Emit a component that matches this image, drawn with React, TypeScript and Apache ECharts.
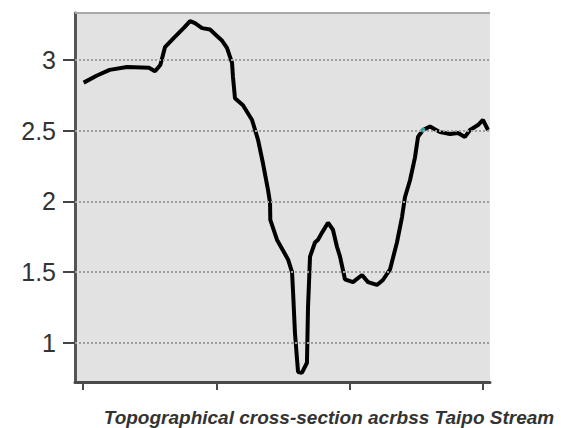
import React, { useEffect, useRef } from "react";
import * as echarts from "echarts";

// Distance along the section (axis units: ticks at 0, 100, 200, 300)
const distance: number[] = [
  0.5, 10.5, 20, 33, 49.5, 54, 58, 61.5, 68, 76, 80.3, 84, 89.3, 95.3, 100.5, 104,
  108, 111.8, 112.5, 114, 120, 126.8, 131.3, 135, 138.8, 140.3, 140.5, 145.5, 153.8,
  156.8, 157.5, 159, 161.3, 164.3, 168, 168.8, 170.3, 174, 176.3, 179.3, 183.8, 187.5,
  190.5, 192.8, 196.5, 202.5, 209.3, 213.8, 220.5, 225, 230.3, 235.5, 239.3, 241.5,
  245.3, 249, 251.3, 255, 260.3, 267.8, 275.3, 281.3, 286.5, 290.3, 296.3, 300, 303.8,
];

// Elevation values
const elevation: number[] = [
  2.84, 2.89, 2.93, 2.95, 2.945, 2.92, 2.965, 3.09, 3.155, 3.23, 3.275, 3.26, 3.225,
  3.215, 3.17, 3.14, 3.085, 2.98, 2.88, 2.73, 2.68, 2.576, 2.435, 2.27, 2.08, 1.99,
  1.87, 1.73, 1.59, 1.5, 1.375, 1.07, 0.795, 0.79, 0.86, 1.255, 1.61, 1.71, 1.73, 1.78,
  1.85, 1.8, 1.68, 1.61, 1.45, 1.43, 1.48, 1.43, 1.41, 1.445, 1.52, 1.71, 1.89, 2.03,
  2.15, 2.31, 2.456, 2.505, 2.53, 2.49, 2.477, 2.484, 2.456, 2.505, 2.54, 2.576, 2.505,
];

const yTicks: number[] = [1, 1.5, 2, 2.5, 3];
const xTicks: number[] = [0, 100, 200, 300];
const highlightPoint: [number, number][] = [[255, 2.505]];
const caption = "Topographical cross-section acrbss Taipo Stream";

export default function App() {
  const ref = useRef<HTMLDivElement>(null);

  useEffect(() => {
    if (!ref.current) return;
    const chart = echarts.init(ref.current, null, { renderer: "svg" });
    const profile = distance.map((d, i) => [d, elevation[i]]);
    chart.setOption({
      animation: false,
      grid: {
        left: 75,
        top: 13,
        width: 415,
        height: 369,
        show: true,
        backgroundColor: "#e2e2e2",
        borderWidth: 0,
      },
      xAxis: {
        type: "value",
        min: -6,
        max: 305.3,
        axisLine: { show: true, onZero: false, lineStyle: { color: "#4a4a4a", width: 3 } },
        axisTick: {
          show: true,
          customValues: xTicks,
          length: 8,
          lineStyle: { color: "#4a4a4a", width: 2 },
        },
        axisLabel: { show: false },
        splitLine: { show: false },
      },
      yAxis: {
        type: "value",
        min: 0.724,
        max: 3.332,
        axisLine: { show: true, onZero: false, lineStyle: { color: "#555555", width: 3 } },
        axisTick: {
          show: true,
          customValues: yTicks,
          length: 12,
          lineStyle: { color: "#444444", width: 2 },
        },
        axisLabel: {
          show: true,
          customValues: yTicks,
          margin: 19,
          fontSize: 25,
          color: "#333333",
          fontFamily: "Liberation Sans, Arial, sans-serif",
        },
        splitLine: { show: false },
      },
      graphic: [
        {
          type: "line",
          shape: { x1: 75, y1: 13, x2: 490, y2: 13 },
          style: { stroke: "#a8a8a8", lineWidth: 2 },
          z: 10,
        },
        {
          type: "text",
          x: 329,
          y: 417,
          style: {
            text: caption,
            fontSize: 19,
            fontStyle: "italic",
            fontWeight: "bold",
            fontFamily: "Liberation Sans, Arial, sans-serif",
            fill: "#333333",
            align: "center",
            verticalAlign: "middle",
          },
        },
      ],
      series: [
        {
          type: "line",
          data: profile,
          showSymbol: false,
          silent: true,
          z: 1,
          lineStyle: { opacity: 0 },
          markLine: {
            silent: true,
            symbol: "none",
            label: { show: false },
            lineStyle: { type: "dotted", color: "#9e9e9e", width: 2 },
            data: yTicks.map((v) => ({ yAxis: v })),
          },
        },
        {
          type: "line",
          data: profile,
          showSymbol: false,
          z: 3,
          lineStyle: { color: "#000000", width: 4 },
        },
        {
          type: "scatter",
          data: highlightPoint,
          symbolSize: 5,
          z: 4,
          itemStyle: { color: "#2ccfd0" },
        },
      ],
    });
    return () => chart.dispose();
  }, []);

  return (
    <div
      ref={ref}
      style={{ position: "absolute", left: 0, top: 0, width: 561, height: 428 }}
    />
  );
}
